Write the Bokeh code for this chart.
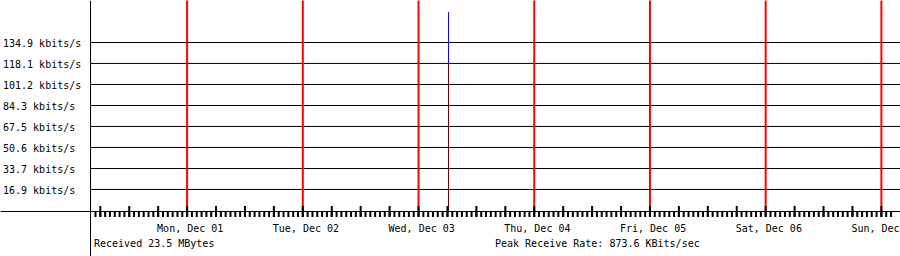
import math
from bokeh.plotting import figure
from bokeh.models import Range1d, Span
from bokeh.core.properties import value
from bokeh.embed import file_html
from bokeh.resources import INLINE

# ---------------- data ----------------
# time axis: hours since Mon, Dec 01 00:00
day_hours = [0, 24, 48, 72, 96, 120, 144]
day_labels = ["Mon, Dec 01", "Tue, Dec 02", "Wed, Dec 03", "Thu, Dec 04",
              "Fri, Dec 05", "Sat, Dec 06", "Sun, Dec"]

y_tick_values = [16.9, 33.7, 50.6, 67.5, 84.3, 101.2, 118.1, 134.9]
y_tick_labels = ["16.9 kbits/s", "33.7 kbits/s", "50.6 kbits/s", "67.5 kbits/s",
                 "84.3 kbits/s", "101.2 kbits/s", "118.1 kbits/s", "134.9 kbits/s"]

# received traffic samples (kbits/s)
sample_hours = [54.22]
lower_kbps = [118.3]     # dark red part
upper_kbps = [41.0]      # blue part stacked on top
total_kbps = [a + b for a, b in zip(lower_kbps, upper_kbps)]

received_text = "Received 23.5 MBytes"
peak_text = "Peak Receive Rate: 873.6 KBits/sec"

# ---------------- layout helpers ----------------
W, H = 900, 256
PX_PER_H = 810.0 / 168.0          # 7 days over 810 px
MON_PX = 186.6                     # pixel of Mon 00:00
STEP = 134.9 / 8.0                 # kbits/s per grid step
PX_PER_STEP = 21.0
ZERO_PX = 210.0


def hx(px):
    return (px - MON_PX) / PX_PER_H


def vy(py):
    return (ZERO_PX - py) * STEP / PX_PER_STEP


def py_of(v):
    return ZERO_PX - v * PX_PER_STEP / STEP


FONT = value("DejaVu Sans Mono")

p = figure(width=W, height=H, x_range=Range1d(hx(0), hx(W)), y_range=Range1d(vy(H), vy(0)),
           output_backend="svg", toolbar_location=None, x_axis_type=None, y_axis_type=None,
           min_border=0, background_fill_color="white", border_fill_color="white")
p.outline_line_color = None
p.grid.visible = False

# horizontal grid lines
p.segment(x0=[hx(89.5)] * len(y_tick_values), x1=[hx(W)] * len(y_tick_values),
          y0=y_tick_values, y1=y_tick_values, line_color="black", line_width=1)

# traffic
p.segment(x0=sample_hours, x1=sample_hours, y0=[0] * len(sample_hours), y1=total_kbps,
          line_color="#0000FF", line_width=1)
p.segment(x0=sample_hours, x1=sample_hours, y0=[0] * len(sample_hours), y1=lower_kbps,
          line_color="#800000", line_width=1)

# day separator lines
p.segment(x0=day_hours, x1=day_hours, y0=[vy(210.5)] * len(day_hours), y1=[vy(-0.5)] * len(day_hours),
          line_color="#FF0000", line_width=2)

# axes lines
p.add_layout(Span(location=hx(90.0), dimension="height", line_color="black", line_width=1))
p.add_layout(Span(location=vy(211.0), dimension="width", line_color="black", line_width=1))

# tick marks: hourly minor, 6-hourly major
h_first = math.ceil(hx(91))
h_last = math.floor(hx(891.5))
hours = list(range(h_first, h_last + 1))
p.segment(x0=hours, x1=hours, y0=[vy(210.5)] * len(hours), y1=[vy(216.5)] * len(hours),
          line_color="black", line_width=2)
majors = [h for h in hours if h % 6 == 0]
p.segment(x0=majors, x1=majors, y0=[vy(205.5)] * len(majors), y1=[vy(216.5)] * len(majors),
          line_color="black", line_width=2)

# y labels
p.text(x=[hx(2.5)] * len(y_tick_values), y=[vy(py_of(v) + 0.6) for v in y_tick_values],
       text=y_tick_labels, text_font=FONT, text_font_size="10px", text_align="left",
       text_baseline="middle", text_color="black")

# day labels
p.text(x=[h - 30.0 / PX_PER_H for h in day_hours], y=[vy(227.5)] * len(day_hours),
       text=day_labels, text_font=FONT, text_font_size="10px", text_align="left",
       text_baseline="middle", text_color="black")

# summary texts
p.text(x=[hx(93.5), hx(494.5)], y=[vy(242.7)] * 2, text=[received_text, peak_text],
       text_font=FONT, text_font_size="10px", text_align="left",
       text_baseline="middle", text_color="black")

open("out.html", "w").write(file_html(p, INLINE))
